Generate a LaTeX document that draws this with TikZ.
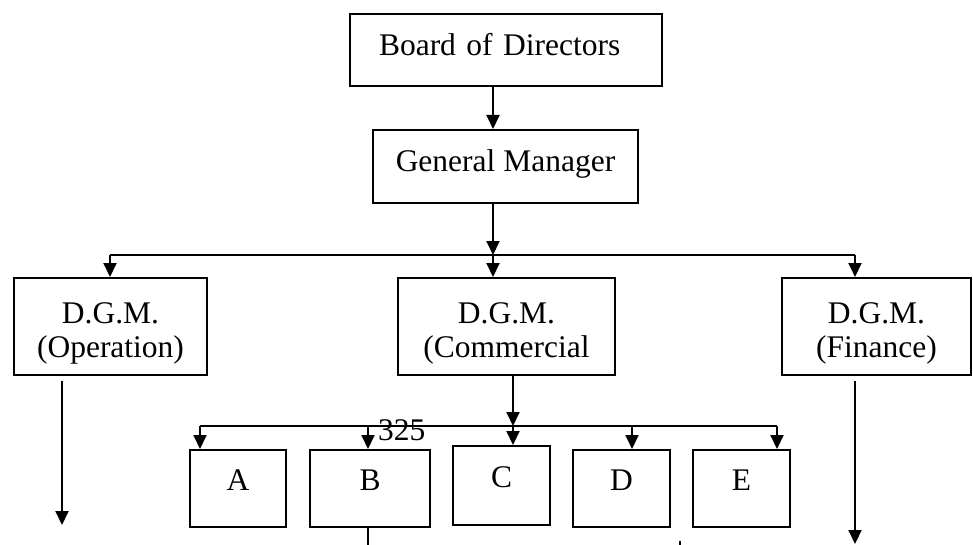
\documentclass[tikz,border=0pt]{standalone}
\usepackage{fontspec}
\setmainfont{Liberation Serif}
\usetikzlibrary{arrows.meta}

\begin{document}
\begin{tikzpicture}[x=1pt,y=-1pt,line width=2pt,
        font=\fontsize{31.5}{34}\selectfont,
        arr/.style={-{Triangle[length=14pt,width=13pt]}},
        box/.style={draw,rectangle,inner sep=0pt,text height=22pt,text depth=11pt},
        dgm box/.style={draw,rectangle,inner sep=0pt,align=center,minimum height=97pt,
            text height=62pt,text depth=0pt},
        letter box/.style={box,minimum width=97pt,minimum height=77pt,text depth=18pt}]

    \useasboundingbox (0,0) rectangle (973,545);

    \node[box, minimum width=312pt, minimum height=72pt, text width=254pt, align=left] (board) at (506,50) {Board of Directors};
    \node[box, minimum width=265pt, minimum height=73pt] (gm) at (505.5,166.5) {General Manager};

    \node[dgm box, minimum width=193pt] (ops) at (110.5,326.5) {D.G.M.\\(Operation)};
    \node[dgm box, minimum width=217pt] (com) at (506.5,326.5) {D.G.M.\\(Commercial};
    \node[dgm box, minimum width=189pt] (fin) at (876.5,326.5) {D.G.M.\\(Finance)};

    \node[letter box, minimum width=96pt] (A) at (238,488.5) {A};
    \node[letter box, minimum width=120pt] (B) at (370,488.5) {B};
    \node[letter box, minimum height=79pt] (C) at (501.5,485.5) {C};
    \node[letter box] (D) at (621.5,488.5) {D};
    \node[letter box] (E) at (741.5,488.5) {E};

    \node[anchor=south west, inner sep=0pt] (num) at (377,442) {325};

    \coordinate (trunk) at (493,0);
    \coordinate (busL) at (110,255);
    \coordinate (busR) at (855,255);
    \coordinate (drop) at (513,426);
    \coordinate (subL) at (200,426);
    \coordinate (subR) at (777,426);
    \coordinate (dD) at (632,426);
    \coordinate (opsEnd) at (62,525);
    \coordinate (finEnd) at (855,544);
    \coordinate (bEnd) at (368,545);
    \coordinate (tick) at (680,541);

    % top of the chart
    \draw[arr] (board.south -| trunk) -- (gm.north -| trunk);
    \draw[arr] (gm.south -| trunk) -- (busL -| trunk);
    \draw (busL) -- (busR);
    \draw[arr] (busL) -- (busL |- ops.north);
    \draw[arr] (busL -| trunk) -- (trunk |- com.north);
    \draw[arr] (busR) -- (busR |- fin.north);

    % under the commercial D.G.M.
    \draw[arr] (com.south -| drop) -- (drop);
    \draw (subL) -- (subR);
    \draw[arr] (subL) -- (subL |- A.north);
    \draw[arr] (subL -| bEnd) -- (bEnd |- B.north);
    \draw[arr] (drop) -- (drop |- C.north);
    \draw[arr] (dD) -- (dD |- D.north);
    \draw[arr] (subR) -- (subR |- E.north);

    \draw[arr, shorten <=5pt] (ops.south -| opsEnd) -- (opsEnd);
    \draw[arr, shorten <=5pt] (fin.south -| finEnd) -- (finEnd);
    \draw (B.south -| bEnd) -- (bEnd);
    \draw[line width=1.2pt] (tick) -- ++(0,4);

\end{tikzpicture}
\end{document}
